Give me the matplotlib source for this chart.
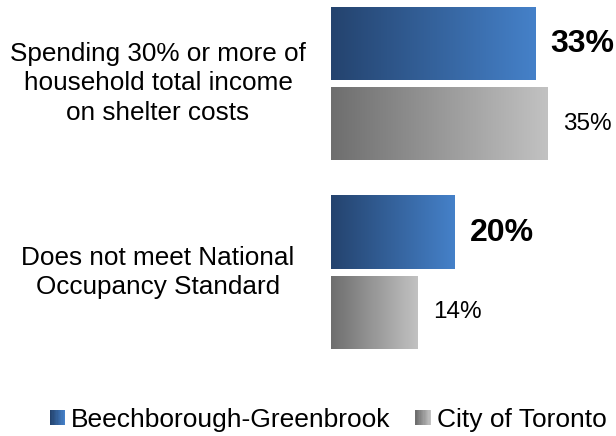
import numpy as np
import matplotlib
matplotlib.use("Agg")
import matplotlib.pyplot as plt
from matplotlib.patches import Rectangle
from matplotlib.legend_handler import HandlerBase

plt.rcParams['font.family'] = ['Liberation Sans', 'DejaVu Sans']

# data
categories = ["Spending 30% or more of\nhousehold total income\non shelter costs",
              "Does not meet National\nOccupancy Standard"]
series_names = ["Beechborough-Greenbrook", "City of Toronto"]
local_vals = [33, 20]
city_vals = [35, 14]

blue_grad = ("#24436e", "#4581c9")
gray_grad = ("#6e6e6e", "#c2c2c2")


def gradient_cmap(c1, c2):
    return matplotlib.colors.LinearSegmentedColormap.from_list("g", [c1, c2])


# legend key drawn as a little gradient square
class HandlerGradient(HandlerBase):
    def __init__(self, c1, c2):
        super().__init__()
        self.cmap = gradient_cmap(c1, c2)

    def create_artists(self, legend, orig_handle, xdescent, ydescent,
                       width, height, fontsize, trans):
        n = 12
        side = height
        x0 = -xdescent + width - side
        arts = []
        for i in range(n):
            r = Rectangle((x0 + side * i / n, -ydescent), side / n + 0.01, side,
                          facecolor=self.cmap(i / (n - 1)), edgecolor='none',
                          transform=trans)
            arts.append(r)
        return arts


fig = plt.figure(figsize=(6.16, 4.36), dpi=100)
W, H = 616, 436
ax = fig.add_axes([331 / W, (H - 378) / H, 285 / W, 378 / H])

px_per_unit = 189.0
bar_h = 73 / px_per_unit
off = 40 / px_per_unit

grad = np.linspace(0, 1, 256).reshape(1, -1)
for i in range(len(categories)):
    for val, cols, dy, bold in [(local_vals[i], blue_grad, -off, True),
                                 (city_vals[i], gray_grad, off, False)]:
        y0 = i + dy - bar_h / 2
        y1 = i + dy + bar_h / 2
        ax.imshow(grad, cmap=gradient_cmap(*cols), aspect='auto',
                  extent=(0, val, y1, y0), interpolation='bilinear')
        ax.text(val + 2.4, i + dy, "%d%%" % val, va='center', ha='left',
                fontsize=23 if bold else 17.5,
                fontweight='bold' if bold else 'normal', color='black')
    fig.text(158 / W, 1 - (83.5 + i * px_per_unit) / H, categories[i],
             ha='center', va='center', fontsize=18.8, linespacing=1.3)

ax.set_xlim(0, 285 / 6.2)
ax.set_ylim((378 - 83.5) / px_per_unit, -83.5 / px_per_unit)
ax.axis('off')

h1 = Rectangle((0, 0), 1, 1)
h2 = Rectangle((0, 0), 1, 1)
fig.legend([h1, h2], series_names, loc='center', bbox_to_anchor=(329 / W, 1 - 420 / H),
           ncol=2, frameon=False, fontsize=19, handlelength=0.53,
           handleheight=0.53, handletextpad=0.22, columnspacing=1.0,
           borderpad=0, borderaxespad=0,
           handler_map={h1: HandlerGradient(*blue_grad),
                        h2: HandlerGradient(*gray_grad)})

fig.savefig("out.png", dpi=100)
